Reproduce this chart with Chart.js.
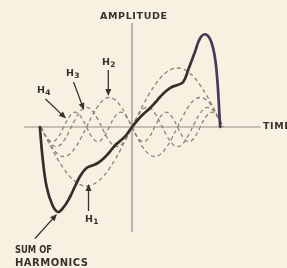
<!DOCTYPE html>
<html><head><meta charset="utf-8">
<script src="https://cdn.jsdelivr.net/npm/chart.js@4.4.1/dist/chart.umd.min.js"></script>
<style>
html,body{margin:0;padding:0;background:#f8f1e2;overflow:hidden}
#wrap{width:287px;height:268px;position:relative}
canvas{display:block}
</style></head>
<body><div id="wrap"><canvas id="c" width="287" height="268"></canvas></div>
<script>
// time in steps of pi/16 over one period
const time = [-16,-15,-14,-13,-12,-11,-10,-9,-8,-7,-6,-5,-4,-3,-2,-1,0,1,2,3,4,5,6,7,8,9,10,11,12,13,14,15,16];
const h1 = [0,-11.5,-22.6,-32.8,-41.7,-49.1,-54.5,-57.9,-59,-57.9,-54.5,-49.1,-41.7,-32.8,-22.6,-11.5,0,11.5,22.6,32.8,41.7,49.1,54.5,57.9,59,57.9,54.5,49.1,41.7,32.8,22.6,11.5,0];
const h2 = [0,-11.3,-20.9,-27.3,-29.5,-27.3,-20.9,-11.3,0,11.3,20.9,27.3,29.5,27.3,20.9,11.3,0,-11.3,-20.9,-27.3,-29.5,-27.3,-20.9,-11.3,0,11.3,20.9,27.3,29.5,27.3,20.9,11.3,0];
const h3 = [0,-10.9,-18.2,-19.3,-13.9,-3.8,7.5,16.4,19.7,16.4,7.5,-3.8,-13.9,-19.3,-18.2,-10.9,0,10.9,18.2,19.3,13.9,3.8,-7.5,-16.4,-19.7,-16.4,-7.5,3.8,13.9,19.3,18.2,10.9,0];
const h4 = [0,-10.4,-14.8,-10.4,0,10.4,14.8,10.4,0,-10.4,-14.8,-10.4,0,10.4,14.8,10.4,0,-10.4,-14.8,-10.4,0,10.4,14.8,10.4,0,-10.4,-14.8,-10.4,0,10.4,14.8,10.4,0];
// sum of harmonics (as drawn)
const sumTime = [-16.2,-15.7,-15,-14,-13,-12,-11,-10,-9,-8,-7,-6,-5,-4,-3,-2,-1,0,1,2,3,4,5,6,7,8,9,10,11,12,13,14,14.8,15.5];
const sumValues = [0,-32,-60,-78,-85,-80,-71,-59,-48,-41,-38.5,-36,-31.5,-25.5,-18.5,-13.5,-8,0,7,13,18,24,30.5,36,40,42,45,59,74,89,92.5,84,60,0];
// axes extents
const timeAxis = [-19, 22.6];
const ampAxis = [104, -105];

const labels = {amplitude:'AMPLITUDE', time:'TIME', sum1:'SUM OF', sum2:'HARMONICS', h:['H','1','2','3','4']};

const pts = (xs, ys) => xs.map((x, i) => ({x: x, y: ys[i]}));

const INK = '#3a302c';
const FONT = '"DejaVu Sans", "Liberation Sans", sans-serif';
function spacedText(ctx, str, x, y, size, target) {
  ctx.font = 'bold ' + size + 'px ' + FONT;
  ctx.letterSpacing = '0px';
  const w = ctx.measureText(str).width;
  if (target) {
    const ls = (target - w) / (str.length - 1);
    if (ls >= 0) { ctx.letterSpacing = ls + 'px'; ctx.fillText(str, x, y); }
    else { ctx.save(); ctx.translate(x, y); ctx.scale(target / w, 1); ctx.fillText(str, 0, 0); ctx.restore(); }
  } else ctx.fillText(str, x, y);
  ctx.letterSpacing = '0px';
}
function arrow(ctx, x1, y1, x2, y2) {
  const a = Math.atan2(y2 - y1, x2 - x1), L = 7, W = 3;
  ctx.beginPath(); ctx.moveTo(x1, y1); ctx.lineTo(x2 - L * 0.6 * Math.cos(a), y2 - L * 0.6 * Math.sin(a)); ctx.stroke();
  ctx.beginPath();
  ctx.moveTo(x2, y2);
  ctx.lineTo(x2 - L * Math.cos(a) + W * Math.sin(a), y2 - L * Math.sin(a) - W * Math.cos(a));
  ctx.lineTo(x2 - L * Math.cos(a) - W * Math.sin(a), y2 - L * Math.sin(a) + W * Math.cos(a));
  ctx.closePath(); ctx.fill();
}
function hLabel(ctx, n, x, y) {
  ctx.font = 'bold 9.5px ' + FONT;
  ctx.fillText(labels.h[0], x, y);
  ctx.font = 'bold 7.5px ' + FONT;
  ctx.fillText(labels.h[n], x + 8.2, y + 2.3);
}

const bg = {
  id: 'bg',
  beforeDraw(chart) {
    const c = chart.ctx; c.save(); c.fillStyle = '#f8f1e2'; c.fillRect(0, 0, chart.width, chart.height); c.restore();
  }
};
const notes = {
  id: 'notes',
  afterDatasetsDraw(chart) {
    const c = chart.ctx;
    c.save();
    c.fillStyle = INK; c.strokeStyle = INK; c.lineWidth = 1.3; c.textBaseline = 'alphabetic';
    spacedText(c, labels.amplitude, 100, 19.3, 9.5, 67);
    c.letterSpacing = '0.6px';
    c.font = 'bold 9.5px ' + FONT;
    c.fillText(labels.time, 263, 128.8);
    c.letterSpacing = '0px';
    spacedText(c, labels.sum1, 15, 253, 10, 37);
    spacedText(c, labels.sum2, 15, 265.5, 10, 73);
    hLabel(c, 2, 102, 64.5);
    hLabel(c, 3, 66, 76);
    hLabel(c, 4, 37, 92.5);
    hLabel(c, 1, 85, 221.5);
    arrow(c, 108.3, 70, 108.3, 96);
    arrow(c, 73.5, 82, 84, 110);
    arrow(c, 45.5, 99, 66, 118.5);
    arrow(c, 88.5, 211, 88.5, 184);
    arrow(c, 35, 238.5, 57, 214);
    c.restore();
  }
};

function sumColor(context) {
  const ch = context.chart, area = ch.chartArea;
  if (!area) return '#3a2a2b';
  const g = ch.ctx.createLinearGradient(0, 0, ch.width, 0);
  g.addColorStop(0, '#3a2a2b');
  g.addColorStop(0.64, '#3a2a2b');
  g.addColorStop(0.71, '#4a3a5a');
  g.addColorStop(0.76, '#4a3a5a');
  g.addColorStop(0.8, '#3a2a2b');
  g.addColorStop(1, '#3a2a2b');
  return g;
}

const dash = {borderColor: '#8d827c', borderWidth: 1.3, borderDash: [4, 3], tension: 0.4, pointRadius: 0, showLine: true, fill: false};
new Chart(document.getElementById('c'), {
  type: 'scatter',
  data: {
    datasets: [
      {label: 'Sum of harmonics', data: pts(sumTime, sumValues), borderColor: sumColor, borderWidth: 2.7, tension: 0.4, pointRadius: 0, showLine: true, borderCapStyle: 'round', borderJoinStyle: 'round'},
      Object.assign({label: 'H1', data: pts(time, h1)}, dash),
      Object.assign({label: 'H2', data: pts(time, h2)}, dash),
      Object.assign({label: 'H3', data: pts(time, h3)}, dash),
      Object.assign({label: 'H4', data: pts(time, h4)}, dash),
      {label: 'time axis', data: pts(timeAxis, [0, 0]), borderColor: '#958b86', borderWidth: 1.2, pointRadius: 0, showLine: true, tension: 0},
      {label: 'amplitude axis', data: pts([0, 0], ampAxis), borderColor: '#958b86', borderWidth: 1.2, pointRadius: 0, showLine: true, tension: 0}
    ]
  },
  options: {
    responsive: false, animation: false, events: [],
    layout: {padding: 0, autoPadding: false},
    plugins: {legend: {display: false}, tooltip: {enabled: false}},
    scales: {
      x: {type: 'linear', display: false, min: -23.21, max: 27.25},
      y: {type: 'linear', display: false, min: -141, max: 127}
    }
  },
  plugins: [bg, notes]
});
</script>
</body></html>
